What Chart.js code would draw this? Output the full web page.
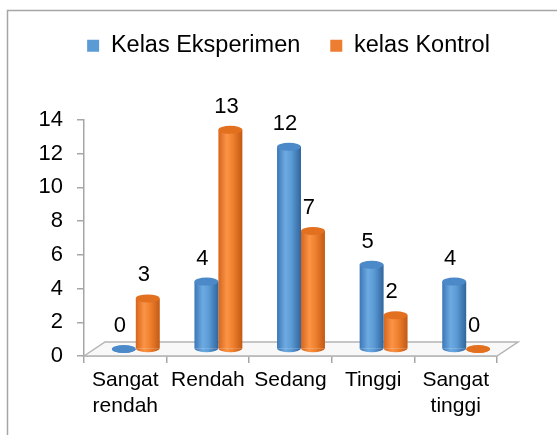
<!DOCTYPE html>
<html>
<head>
<meta charset="utf-8">
<script src="https://cdn.jsdelivr.net/npm/chart.js@4.4.1/dist/chart.umd.min.js"></script>
<style>
  html, body { margin: 0; padding: 0; background: #fff; }
</style>
</head>
<body>
<canvas id="kelasChart" width="557" height="435"></canvas>
<script>
const categories = [['Sangat', 'rendah'], 'Rendah', 'Sedang', 'Tinggi', ['Sangat', 'tinggi']];
const seriesNames = ['Kelas Eksperimen', 'kelas Kontrol'];
const eksperimenValues = [0, 4, 12, 5, 4];
const kontrolValues = [3, 13, 7, 2, 0];
const yTicks = [0, 2, 4, 6, 8, 10, 12, 14];

const legendColors = ['#5b9bd5', '#ed7d31'];
const bodyStops = [
  ['#3b77b6', '#6eaae2', '#5b9bd5', '#31659c'],
  ['#d6651c', '#fb9446', '#ef812f', '#c35913']
];
const topColors = ['#4b89c9', '#e2701f'];
const DEPTH_X = 21, DEPTH_Y = -14;
const CAT_PCT = 0.58;

Chart.defaults.font.family = "'Liberation Sans', Arial, sans-serif";
Chart.defaults.color = '#000';

// horizontal gradient across each bar, so it reads as a cylinder
function cylinderFill(ctx) {
  const chart = ctx.chart;
  const area = chart.chartArea;
  const stops = bodyStops[ctx.datasetIndex];
  if (!area || ctx.dataIndex === undefined) return stops[2];
  const catW = (area.right - area.left) / categories.length;
  const bw = catW * CAT_PCT / 2;
  const cx = chart.scales.x.getPixelForValue(ctx.dataIndex) + (ctx.datasetIndex === 0 ? -bw / 2 : bw / 2);
  const g = chart.ctx.createLinearGradient(cx - bw / 2, 0, cx + bw / 2, 0);
  g.addColorStop(0, stops[0]);
  g.addColorStop(0.35, stops[1]);
  g.addColorStop(0.6, stops[2]);
  g.addColorStop(1, stops[3]);
  return g;
}

const framePlugin = {
  id: 'frame',
  beforeDraw(chart) {
    const c = chart.ctx;
    c.save();
    c.fillStyle = '#fff';
    c.fillRect(0, 0, chart.width, chart.height);
    c.strokeStyle = '#a6a6a6';
    c.lineWidth = 1.5;
    c.beginPath();
    c.moveTo(7.5, chart.height);
    c.lineTo(7.5, 10.5);
    c.lineTo(chart.width, 10.5);
    c.stroke();
    c.restore();
  },
  afterLayout(chart) {
    chart.legend.top += 4;
  }
};

const legendSpace = {
  id: 'legendSpace',
  beforeInit(chart) {
    const fit = chart.legend.fit;
    chart.legend.fit = function () {
      fit.call(this);
      this.height += 56.5;
    };
  }
};

const floorPlugin = {
  id: 'floor',
  beforeDatasetsDraw(chart) {
    const { left, right, bottom } = chart.chartArea;
    const c = chart.ctx;
    c.save();
    c.beginPath();
    c.moveTo(left, bottom);
    c.lineTo(left + DEPTH_X, bottom + DEPTH_Y);
    c.lineTo(right + DEPTH_X, bottom + DEPTH_Y);
    c.lineTo(right, bottom);
    c.closePath();
    c.fillStyle = '#f8f8f8';
    c.fill();
    c.strokeStyle = '#b4b4b4';
    c.lineWidth = 1.5;
    c.stroke();
    // bars stand half way into the floor
    c.save();
    c.translate(DEPTH_X / 2, DEPTH_Y / 2);
  },
  afterDatasetsDraw(chart) {
    const c = chart.ctx;
    chart.data.datasets.forEach((ds, di) => {
      const meta = chart.getDatasetMeta(di);
      meta.data.forEach((bar, i) => {
        const rx = bar.width / 2, ry = 4;
        c.beginPath();
        c.ellipse(bar.x, bar.base, rx, ry, 0, 0, Math.PI);
        c.fillStyle = cylinderFill({ chart, datasetIndex: di, dataIndex: i });
        c.fill();
        c.beginPath();
        c.ellipse(bar.x, bar.y, rx, ry, 0, 0, Math.PI * 2);
        c.fillStyle = topColors[di];
        c.fill();
        c.fillStyle = '#000';
        c.font = "22px 'Liberation Sans', Arial, sans-serif";
        c.textAlign = 'center';
        c.textBaseline = 'middle';
        c.fillText(String(ds.data[i]), bar.x - 4, bar.y - 23);
      });
    });
    c.restore();
    c.restore();
  }
};

new Chart(document.getElementById('kelasChart'), {
  type: 'bar',
  data: {
    labels: categories,
    datasets: [
      { label: seriesNames[0], data: eksperimenValues, backgroundColor: cylinderFill, borderWidth: 0, clip: false },
      { label: seriesNames[1], data: kontrolValues, backgroundColor: cylinderFill, borderWidth: 0, clip: false }
    ]
  },
  options: {
    responsive: false,
    animation: false,
    devicePixelRatio: 1,
    layout: { padding: { left: 20, right: 0, top: 0, bottom: 0 } },
    datasets: { bar: { barPercentage: 1, categoryPercentage: CAT_PCT } },
    scales: {
      x: {
        afterFit: s => { s.height = 79; },
        grid: { drawOnChartArea: false, tickLength: 7, color: '#a6a6a6', lineWidth: 1.5, offset: true },
        border: { color: '#a6a6a6', width: 1.5 },
        ticks: { padding: 4, color: '#000', font: { size: 21, lineHeight: 1.24 }, maxRotation: 0, autoSkip: false }
      },
      y: {
        min: 0,
        max: 14,
        afterBuildTicks: s => { s.ticks = yTicks.map(v => ({ value: v })); },
        afterFit: s => { s.width = 64; },
        grid: { drawOnChartArea: false, tickLength: 7, color: '#a6a6a6', lineWidth: 1.5 },
        border: { color: '#a6a6a6', width: 1.5 },
        ticks: { padding: 14, color: '#000', font: { size: 22 } }
      },
      yRight: {
        position: 'right',
        afterFit: s => { s.width = 60; },
        grid: { display: false },
        border: { display: false },
        ticks: { display: false }
      }
    },
    plugins: {
      legend: {
        position: 'top',
        labels: {
          boxWidth: 12,
          boxHeight: 12,
          padding: 30,
          color: '#000',
          font: { size: 23.5 },
          generateLabels: chart => Chart.defaults.plugins.legend.labels.generateLabels(chart).map((item, i) =>
            Object.assign(item, { fillStyle: legendColors[i], strokeStyle: legendColors[i], lineWidth: 0 }))
        }
      },
      tooltip: { enabled: false }
    }
  },
  plugins: [framePlugin, legendSpace, floorPlugin]
});
</script>
</body>
</html>
